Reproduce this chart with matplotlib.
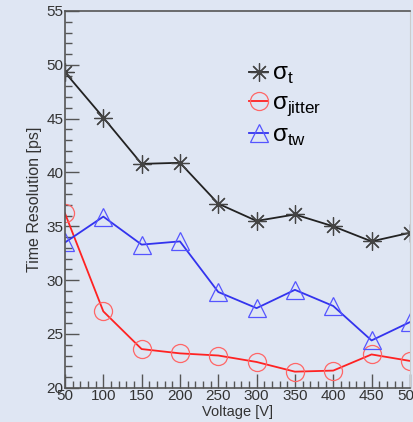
import matplotlib
matplotlib.use('Agg')
import matplotlib.pyplot as plt
from matplotlib.ticker import MultipleLocator

# data
voltage = [50, 100, 150, 200, 250, 300, 350, 400, 450, 500]
sigma_t = [49.3, 45.1, 40.8, 40.9, 37.1, 35.5, 36.1, 35.0, 33.6, 34.4]
sigma_jitter = [36.2, 27.1, 23.6, 23.2, 23.0, 22.4, 21.5, 21.6, 23.1, 22.5]
sigma_tw = [33.5, 35.9, 33.3, 33.6, 28.9, 27.4, 29.1, 27.6, 24.4, 26.1]

bg = '#dfe6f3'
plt.rcParams['font.family'] = ['Liberation Sans', 'DejaVu Sans']
plt.rcParams['mathtext.fontset'] = 'custom'
plt.rcParams['mathtext.rm'] = 'Liberation Sans'

fig = plt.figure(figsize=(4.14, 4.22), dpi=100, facecolor=bg)
ax = fig.add_axes([0.157, 0.081, 0.833, 0.893])
ax.set_facecolor(bg)

ax.plot(voltage, sigma_t, color='#222222', lw=1.3, marker=(8, 2, 0),
        ms=13, mec='#444444', mew=0.9, label=r'σ$_{\mathrm{t}}$')
ax.plot(voltage, sigma_jitter, color='#ff2222', lw=1.3, marker='o',
        ms=13, mfc='none', mec='#ff6666', mew=0.9,
        label=r'σ$_{\mathrm{jitter}}$')
ax.plot(voltage, sigma_tw, color='#3333ee', lw=1.3, marker='^',
        ms=13, mfc='none', mec='#5555ff', mew=0.9,
        label=r'σ$_{\mathrm{tw}}$')

ax.set_xlim(50, 500)
ax.set_ylim(20, 55)
ax.xaxis.set_major_locator(MultipleLocator(50))
ax.xaxis.set_minor_locator(MultipleLocator(10))
ax.yaxis.set_major_locator(MultipleLocator(5))
ax.yaxis.set_minor_locator(MultipleLocator(1))
ax.tick_params(which='both', direction='in', colors='#555555',
               labelcolor='#333333', labelsize=11, top=False, right=False)
ax.tick_params(which='major', length=10, width=1)
ax.tick_params(which='minor', length=5, width=1)
ax.tick_params(axis='x', pad=1)
ax.tick_params(axis='y', pad=1)

for side in ['left', 'bottom', 'top']:
    ax.spines[side].set_color('#555555')
    ax.spines[side].set_linewidth(1.2)
ax.spines['right'].set_color('#cccccc')

ax.set_xlabel('Voltage [V]', fontsize=10.5, color='#333333', labelpad=1)
ax.set_ylabel('Time Resolution [ps]', fontsize=11.5, color='#333333', labelpad=3)

ax.legend(loc='upper left', bbox_to_anchor=(0.47, 0.92), frameon=False,
          fontsize=17.5, handlelength=0.8, handletextpad=0.15, labelspacing=0.25)

plt.savefig('out.png', dpi=100, facecolor=bg)
